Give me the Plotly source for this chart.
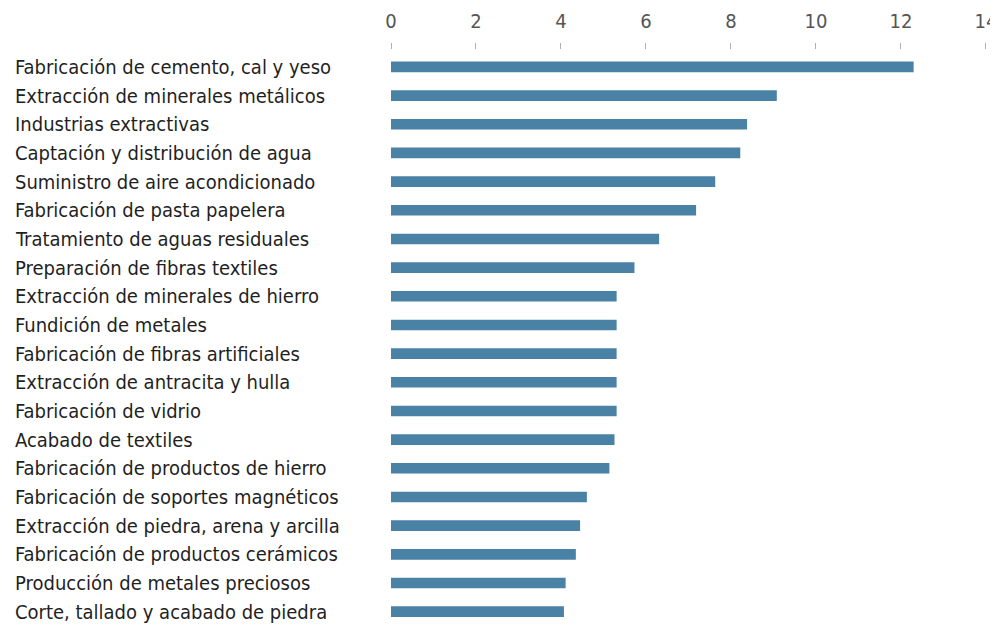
import plotly.graph_objects as go

categories = [
    "Fabricación de cemento, cal y yeso",
    "Extracción de minerales metálicos",
    "Industrias extractivas",
    "Captación y distribución de agua",
    "Suministro de aire acondicionado",
    "Fabricación de pasta papelera",
    "Tratamiento de aguas residuales",
    "Preparación de fibras textiles",
    "Extracción de minerales de hierro",
    "Fundición de metales",
    "Fabricación de fibras artificiales",
    "Extracción de antracita y hulla",
    "Fabricación de vidrio",
    "Acabado de textiles",
    "Fabricación de productos de hierro",
    "Fabricación de soportes magnéticos",
    "Extracción de piedra, arena y arcilla",
    "Fabricación de productos cerámicos",
    "Producción de metales preciosos",
    "Corte, tallado y acabado de piedra",
]
values = [12.3, 9.08, 8.38, 8.22, 7.63, 7.18, 6.31, 5.73, 5.31, 5.31,
          5.31, 5.31, 5.31, 5.26, 5.14, 4.61, 4.45, 4.35, 4.11, 4.07]
tick_vals = [0, 2, 4, 6, 8, 10, 12, 14]

FONT = "DejaVu Sans Condensed, Liberation Sans Narrow, Roboto, sans-serif"
# page body has an 8px default margin
W, H = 990, 619
ML, MR, MT, MB = 383, 10, 40, 1

fig = go.Figure(go.Bar(
    x=values, y=categories, orientation="h",
    marker=dict(color="#4a82a6", line=dict(width=0)),
    width=0.37, hoverinfo="x+y",
))

annotations = []
plot_w = W - ML - MR
for c in categories:
    annotations.append(dict(
        x=(5 - ML) / plot_w, xref="paper", y=c, yref="y",
        text=c, showarrow=False, xanchor="left", yanchor="middle",
        font=dict(family=FONT, size=20, color="#1f1f1f"),
    ))

fig.update_layout(
    width=W, height=H,
    margin=dict(l=ML, r=MR, t=MT, b=MB),
    paper_bgcolor="white", plot_bgcolor="white",
    showlegend=False,
    annotations=annotations,
    xaxis=dict(
        side="top", range=[0, 14.05], tickvals=tick_vals,
        showgrid=False, zeroline=False, showline=False,
        ticks="outside", ticklen=6, tickcolor="#b0b0b0", tickwidth=1,
        tickfont=dict(family=FONT, size=20, color="#555555"),
        ticklabelstandoff=7, ticklabeloverflow="allow",
    ),
    yaxis=dict(
        categoryorder="array", categoryarray=categories[::-1],
        range=[-0.5, len(categories) - 0.41],
        showticklabels=False, showgrid=False, zeroline=False, showline=False,
    ),
)

fig.write_html("out.html")
